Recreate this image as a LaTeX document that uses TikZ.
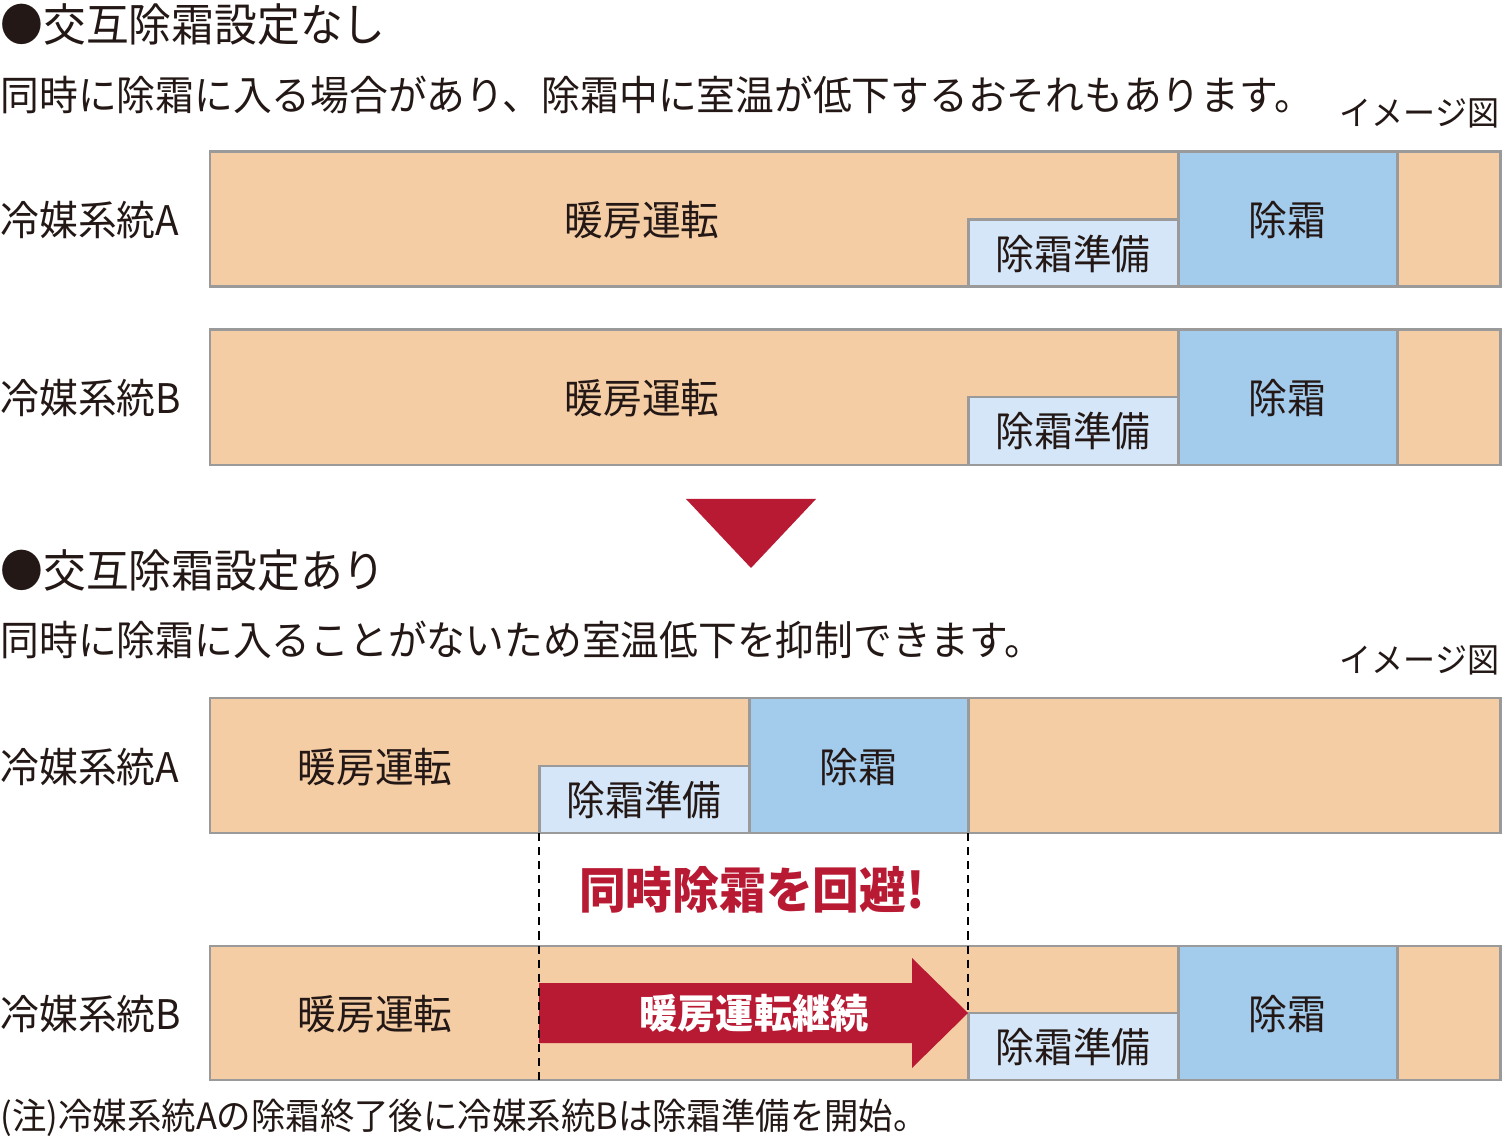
\documentclass[tikz,border=0pt]{standalone}
\usepackage{fontspec}
\setmainfont{Noto Sans CJK JP}[FakeStretch=0.95]
\definecolor{warm}{HTML}{F4CDA5}
\definecolor{prep}{HTML}{D4E6F7}
\definecolor{frost}{HTML}{A3CBEC}
\definecolor{edge}{HTML}{9A9A9A}
\definecolor{ink}{HTML}{231815}
\definecolor{alert}{HTML}{B81A33}

\begin{document}
\begin{tikzpicture}[x=0.01cm, y=-0.01cm, every node/.style={text=ink, inner sep=0pt},
	bar/.style={fill=warm, draw=edge, line width=0.85pt},
	prepbox/.style={fill=prep, draw=edge, line width=0.85pt},
	frostbox/.style={fill=frost, draw=edge, line width=0.85pt},
	lbl/.style={font=\fontsize{11.6pt}{12pt}\selectfont},
	gap/.style={draw=black, line width=0.7pt, dash pattern=on 2.3pt off 1.7pt}]
			\useasboundingbox (0,0) rectangle (1503,1137);

			% ohne
			\node[anchor=west, font=\fontsize{12.8pt}{14pt}\selectfont] (t1) at (0,24) {●交互除霜設定なし};
			\node[anchor=west, font=\fontsize{11.6pt}{12pt}\selectfont] (s1) at (0,95) {同時に除霜に入る場合があり、除霜中に室温が低下するおそれもあります。};
			\node[anchor=east, font=\fontsize{9.6pt}{10pt}\selectfont] (i1) at (1500,113) {イメージ図};

			\draw[bar] (210,152) rectangle (1500,287);
			\draw[prepbox] (968,220) rectangle (1178,287);
			\draw[frostbox] (1178,152) rectangle (1397,287);
			\node[lbl, anchor=west] (ra1) at (0,220) {冷媒系統A};
			\node[lbl] (ha1) at (642,220) {暖房運転};
			\node[lbl] (pa1) at (1073,254) {除霜準備};
			\node[lbl] (da1) at (1287,220) {除霜};

			\draw[bar] (210,330) rectangle (1500,465);
			\draw[prepbox] (968,397) rectangle (1178,465);
			\draw[frostbox] (1178,330) rectangle (1397,465);
			\node[lbl, anchor=west] (rb1) at (0,398) {冷媒系統B};
			\node[lbl] (hb1) at (642,398) {暖房運転};
			\node[lbl] (pb1) at (1073,431) {除霜準備};
			\node[lbl] (db1) at (1287,398) {除霜};

			\fill[alert] (686,499) -- (816,499) -- (751,568) -- cycle;

			% mit
			\node[anchor=west, font=\fontsize{12.8pt}{14pt}\selectfont] (t2) at (0,570) {●交互除霜設定あり};
			\node[anchor=west, font=\fontsize{11.6pt}{12pt}\selectfont] (s2) at (0,640) {同時に除霜に入ることがないため室温低下を抑制できます。};
			\node[anchor=east, font=\fontsize{9.6pt}{10pt}\selectfont] (i2) at (1500,660) {イメージ図};

			\draw[bar] (210,698) rectangle (1500,833);
			\draw[prepbox] (539,766) rectangle (749,833);
			\draw[frostbox] (749,698) rectangle (968,833);
			\node[lbl, anchor=west] (ra2) at (0,767) {冷媒系統A};
			\node[lbl] (ha2) at (375,767) {暖房運転};
			\node[lbl] (pa2) at (644,800) {除霜準備};
			\node[lbl] (da2) at (858,767) {除霜};

			\draw[bar] (210,946) rectangle (1500,1080);
			\draw[prepbox] (968,1013) rectangle (1178,1080);
			\draw[frostbox] (1178,946) rectangle (1397,1080);
			\node[lbl, anchor=west] (rb2) at (0,1014) {冷媒系統B};
			\node[lbl] (hb2) at (375,1014) {暖房運転};
			\node[lbl] (pb2) at (1073,1047) {除霜準備};
			\node[lbl] (db2) at (1287,1014) {除霜};

			\fill[alert] (539,983) -- (912,983) -- (912,958) -- (968,1013) -- (912,1068) -- (912,1043) -- (539,1043) -- cycle;
			\node[text=white, font=\fontsize{11.4pt}{12pt}\selectfont\bfseries] (kz) at (754,1013) {暖房運転継続};

			\coordinate (g1) at (539,833);
			\coordinate (g2) at (539,1080);
			\coordinate (g3) at (968,833);
			\coordinate (g4) at (968,1013);
			\draw[gap] (g1)--(g2);
			\draw[gap] (g3)--(g4);
			\node[text=alert, font=\fontsize{14pt}{15pt}\selectfont\bfseries] (kh) at (752,890) {同時除霜を回避!};

			\node[anchor=west, font=\fontsize{10.3pt}{11pt}\selectfont] (fn) at (0,1118) {(注)冷媒系統Aの除霜終了後に冷媒系統Bは除霜準備を開始。};
		\end{tikzpicture}
\end{document}
